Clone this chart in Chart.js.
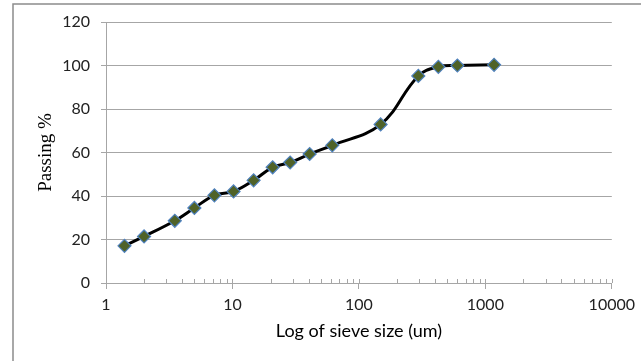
<!DOCTYPE html>
<html>
<head>
<meta charset="utf-8">
<script src="https://cdn.jsdelivr.net/npm/chart.js@4/dist/chart.umd.min.js"></script>
<style>
  html, body { margin: 0; padding: 0; background: #fff; }
  canvas { display: block; }
</style>
</head>
<body>
<canvas id="c" width="641" height="361"></canvas>
<script>
// ---- Data ----
const sieveSizes = [1.4, 2, 3.5, 5, 7.2, 10.2, 14.7, 20.8, 28.6, 40.8, 61.6, 148.5, 295, 425, 601, 1172];
const passing    = [17.1, 21.4, 28.6, 34.5, 40.3, 42.1, 47.2, 53.2, 55.4, 59.3, 63.3, 72.9, 95.2, 99.4, 100, 100.3];
const xMajorTicks = [1, 10, 100, 1000, 10000];
const yTicks = [0, 20, 40, 60, 80, 100, 120];
const xTitle = 'Log of sieve size (um)';
const yTitle = 'Passing %';

const GRID = '#a6a6a6';
const TICKFONT = { family: 'Lato', size: 16 };

const points = sieveSizes.map((s, i) => ({ x: s, y: passing[i] }));

const decorPlugin = {
  id: 'decor',
  beforeDraw(chart) {
    const ctx = chart.ctx;
    ctx.save();
    ctx.strokeStyle = '#8c8c8c';
    ctx.lineWidth = 1.5;
    ctx.strokeRect(13, 4, 800, 500);
    ctx.restore();
  },
  afterDraw(chart) {
    const xs = chart.scales.x;
    const ctx = chart.ctx;
    const yb = chart.chartArea.bottom;
    ctx.save();
    ctx.strokeStyle = GRID;
    ctx.lineWidth = 1;
    const minor = [];
    for (let e = 0; e < 4; e++) {
      for (let m = 1; m <= 10; m++) minor.push(m * Math.pow(10, e));
    }
    minor.forEach(v => {
      const px = Math.round(xs.getPixelForValue(v)) + 0.5;
      ctx.beginPath();
      ctx.moveTo(px, yb - 4);
      ctx.lineTo(px, yb);
      ctx.stroke();
    });
    ctx.restore();
  }
};

new Chart(document.getElementById('c'), {
  type: 'line',
  data: {
    datasets: [{
      data: points,
      borderColor: '#000000',
      borderWidth: 3,
      tension: 0.4,
      pointStyle: 'rectRot',
      pointRadius: 6.5,
      pointBackgroundColor: '#4F6228',
      pointBorderColor: '#4F81BD',
      pointBorderWidth: 1.2,
      fill: false
    }]
  },
  options: {
    responsive: false,
    animation: false,
    layout: { padding: { left: 0, right: 29, top: 22, bottom: 0 } },
    plugins: { legend: { display: false }, tooltip: { enabled: false } },
    scales: {
      x: {
        type: 'logarithmic',
        min: 1,
        max: 10000,
        afterBuildTicks: s => { s.ticks = xMajorTicks.map(v => ({ value: v, major: true })); },
        afterFit: s => { s.height = 78; },
        ticks: {
          autoSkip: false,
          maxRotation: 0,
          padding: 6,
          color: '#222',
          font: TICKFONT,
          callback: v => String(v)
        },
        grid: { drawOnChartArea: false, color: GRID, tickLength: 6 },
        border: { color: GRID, width: 1 },
        title: {
          display: true,
          text: xTitle,
          color: '#000',
          font: { family: 'Lato', size: 18 },
          padding: { top: 0, bottom: 19 }
        }
      },
      y: {
        min: 0,
        max: 120,
        afterBuildTicks: s => { s.ticks = yTicks.map(v => ({ value: v })); },
        afterFit: s => { s.width = 106; },
        ticks: { color: '#222', font: TICKFONT, padding: 11 },
        grid: { color: GRID, tickLength: 5 },
        border: { color: GRID, width: 1 },
        title: {
          display: true,
          text: yTitle,
          color: '#000',
          font: { family: 'Liberation Serif', size: 19 },
          padding: { top: 35, bottom: 0 }
        }
      }
    }
  },
  plugins: [decorPlugin]
});
</script>
</body>
</html>
